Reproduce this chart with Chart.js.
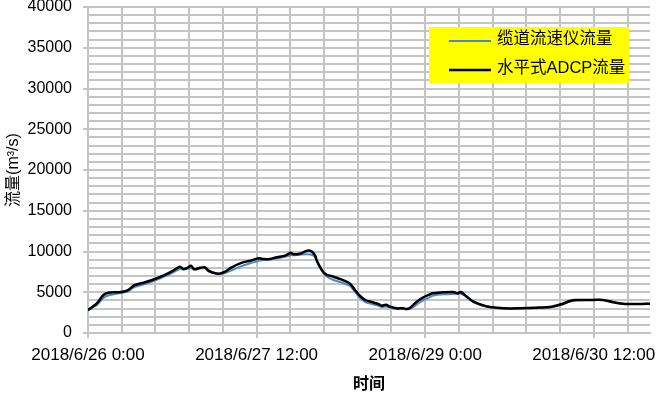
<!DOCTYPE html>
<html>
<head>
<meta charset="utf-8">
<script src="https://cdn.jsdelivr.net/npm/chart.js"></script>
<style>
  html, body { margin: 0; padding: 0; background: #fff; }
  #wrap { width: 661px; height: 394px; }
</style>
</head>
<body>
<div id="wrap"><canvas id="flowChart" width="661" height="394"></canvas></div>
<script>
// hours since 2018/6/26 0:00
var hours = [0, 0.9, 1.9, 3.3, 4.3, 6.5, 8.3, 10, 12.2, 14.3, 16.4, 18.2, 19.6, 20.4, 21.4, 22, 22.7, 23.9, 25, 25.7,
  26.8, 28, 29.3, 30.7, 32.5, 34.6, 36.6, 37.4, 38.5, 40.3, 42.1, 43.3, 43.8, 45.2, 46.8, 47.8, 48.5, 48.8, 49.5, 50.2,
  51, 52.4, 53.8, 55.2, 56.1, 57, 58.1, 59.2, 60.6, 62, 62.7, 63.6, 64.5, 65.9, 67.3, 68, 68.8, 70.2, 71.6, 73,
  73.7, 75.9, 78, 78.9, 79.6, 80.9, 82.3, 84.1, 86.2, 88.7, 92.2, 95.5, 99, 101.2, 102.9, 104, 106.8, 110, 112.2, 114.7,
  117.5, 120];
var cableFlow = [2800, 3100, 3450, 4300, 4600, 4870, 5050, 5650, 6000, 6450, 6950, 7450, 7850, 7800, 7900, 7950, 7800, 7900, 7950, 7600,
  7350, 7250, 7350, 7700, 8150, 8550, 8850, 8950, 9000, 9150, 9350, 9550, 9550, 9600, 9650, 9600, 9300, 8900, 8100, 7400,
  6900, 6500, 6250, 5950, 5700, 5050, 4300, 3800, 3550, 3350, 3200, 3250, 3100, 2950, 2950, 2900, 2950, 3500, 4000, 4400,
  4600, 4750, 4800, 4800, 4850, 4400, 3800, 3400, 3150, 3000, 3000, 3050, 3150, 3450, 3850, 4000, 4050, 4050, 3770, 3560,
  3560, 3600];
var adcpFlow = [2800, 3200, 3640, 4660, 4950, 5000, 5190, 5890, 6220, 6630, 7120, 7650, 8140, 7850, 8060, 8260, 7820, 8000, 8060, 7650,
  7400, 7280, 7520, 8060, 8550, 8870, 9160, 9080, 9040, 9290, 9490, 9850, 9660, 9730, 10100, 9980, 9490, 8960, 8140, 7520,
  7120, 6910, 6630, 6300, 5970, 5280, 4540, 4050, 3800, 3560, 3350, 3470, 3230, 3030, 3030, 2940, 3100, 3840, 4380, 4750,
  4870, 4990, 5030, 4870, 5030, 4460, 3840, 3440, 3150, 3030, 3030, 3100, 3230, 3560, 3930, 4050, 4050, 4050, 3770, 3560,
  3560, 3600];
var seriesNames = ["缆道流速仪流量", "水平式ADCP流量"];
var xTickLabels = ["2018/6/26 0:00", "2018/6/27 12:00", "2018/6/29 0:00", "2018/6/30 12:00"];
var yTickLabels = ["0", "5000", "10000", "15000", "20000", "25000", "30000", "35000", "40000"];

var gridGray = "#C4C4C4";
var cjk = "'Liberation Sans', 'Noto Sans CJK SC', sans-serif";

function pts(ys) {
  return hours.map(function (h, i) { return { x: h, y: ys[i] }; });
}

// yellow legend box inside the plot, top right
var boxLegend = {
  id: "boxLegend",
  afterDraw: function (chart) {
    var ctx = chart.ctx;
    ctx.save();
    ctx.fillStyle = "#FFFF00";
    ctx.fillRect(429, 27, 200, 56);
    var rowY = [39, 68];
    chart.data.datasets.forEach(function (ds, i) {
      ctx.strokeStyle = ds.borderColor;
      ctx.lineWidth = ds.borderWidth;
      ctx.beginPath();
      ctx.moveTo(449, rowY[i] + 2);
      ctx.lineTo(491, rowY[i] + 2);
      ctx.stroke();
      ctx.fillStyle = "#000";
      ctx.font = "16.5px " + cjk;
      ctx.textBaseline = "middle";
      ctx.fillText(ds.label, 497, rowY[i]);
    });
    ctx.restore();
  }
};

new Chart(document.getElementById("flowChart"), {
  type: "line",
  data: {
    datasets: [
      { label: seriesNames[0], data: pts(cableFlow), borderColor: "#4A89CC", borderWidth: 2, pointRadius: 0, tension: 0.3, order: 1 },
      { label: seriesNames[1], data: pts(adcpFlow), borderColor: "#000000", borderWidth: 2.5, pointRadius: 0, tension: 0.3, order: 0 }
    ]
  },
  options: {
    responsive: false,
    animation: false,
    devicePixelRatio: 1,
    layout: { padding: { left: 0, right: 11, top: 0, bottom: 0 } },
    plugins: { legend: { display: false }, tooltip: { enabled: false } },
    scales: {
      x: {
        type: "linear",
        min: 0,
        max: 120,
        grid: {
          color: gridGray,
          lineWidth: 2,
          tickLength: 5,
          tickColor: function (c) { return c.tick && c.tick.value % 36 === 0 ? gridGray : "rgba(0,0,0,0)"; }
        },
        border: { color: gridGray, width: 2 },
        ticks: {
          stepSize: 7.2,
          includeBounds: false,
          autoSkip: false,
          maxRotation: 0,
          padding: 7,
          color: "#000",
          font: { family: "'Liberation Sans'", size: 17 },
          callback: function (v) { return v % 36 === 0 ? xTickLabels[v / 36] : ""; }
        },
        title: { display: true, text: "时间", color: "#000", padding: { top: 0, bottom: 0 },
          font: { family: cjk, size: 16, weight: "bold" } },
        afterFit: function (s) { s.height = 61; s.paddingLeft = 0; s.paddingRight = 0; }
      },
      y: {
        min: 0,
        max: 40000,
        grid: {
          color: gridGray,
          lineWidth: 2,
          tickLength: 5,
          tickColor: function (c) { return c.tick && c.tick.value % 5000 === 0 ? gridGray : "rgba(0,0,0,0)"; }
        },
        border: { color: gridGray, width: 2 },
        ticks: {
          stepSize: 1000,
          autoSkip: false,
          padding: 11,
          color: "#000",
          font: { family: "'Liberation Sans'", size: 16 },
          callback: function (v) { return v % 5000 === 0 ? yTickLabels[v / 5000] : ""; }
        },
        title: { display: true, text: "流量(m³/s)", color: "#000", padding: { top: 4, bottom: 0 },
          font: { family: cjk, size: 16 } },
        afterFit: function (s) { s.width = 88; s.paddingTop = 7; s.paddingBottom = 0; }
      }
    }
  },
  plugins: [boxLegend]
});
</script>
</body>
</html>
